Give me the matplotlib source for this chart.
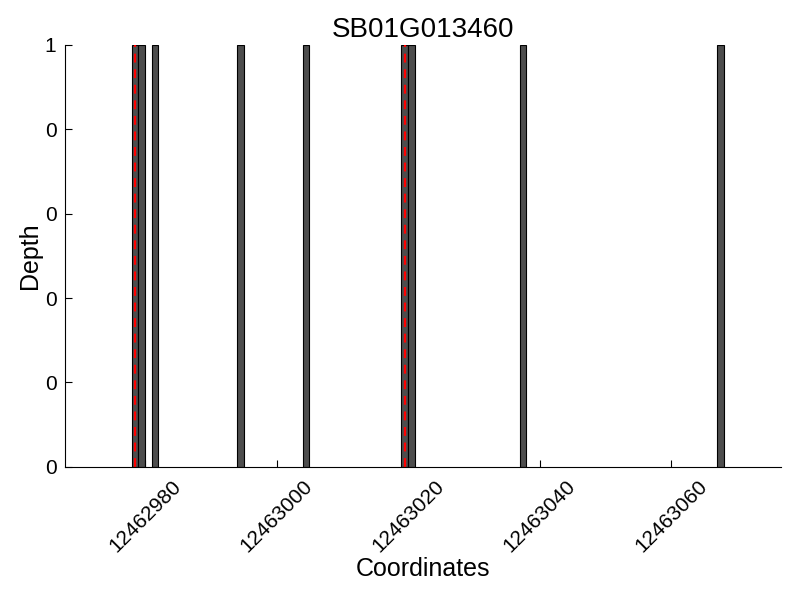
import matplotlib
matplotlib.use("Agg")
import matplotlib.pyplot as plt
from matplotlib.ticker import FormatStrFormatter

plt.rcParams['font.family'] = ['Liberation Sans', 'DejaVu Sans']

gene = "SB01G013460"
positions = [12462978, 12462979, 12462981, 12462994, 12463004,
             12463019, 12463020, 12463037, 12463067]
depths = [1, 1, 1, 1, 1, 1, 1, 1, 1]
markers = [12462978.5, 12463019.5]
xticks = [12462980, 12463000, 12463020, 12463040, 12463060]

fig = plt.figure(figsize=(8, 6), dpi=100)
ax = fig.add_axes([0.081, 0.222, 0.895, 0.703])

ax.bar(positions, depths, width=1, align='edge', color='#4d4d4d',
       edgecolor='black', linewidth=0.8)
for m in markers:
    ax.axvline(m, color='red', linestyle='--', linewidth=1.6, dashes=(4, 3))

ax.set_xlim(12462967.8, 12463076.7)
ax.set_ylim(0, 1)
ax.set_yticks([0, 0.2, 0.4, 0.6, 0.8, 1.0])
ax.yaxis.set_major_formatter(FormatStrFormatter('%d'))
ax.set_xticks(xticks)
ax.set_xticklabels([str(x) for x in xticks], rotation=45, ha='center')

for s in ['top', 'right']:
    ax.spines[s].set_visible(False)
ax.tick_params(direction='in', length=5, labelsize=15, top=False, right=False)
ax.tick_params(axis='x', pad=7)
ax.tick_params(axis='y', pad=6)

ax.set_title(gene, fontsize=20, pad=6)
ax.set_xlabel("Coordinates", fontsize=18, labelpad=1)
ax.set_ylabel("Depth", fontsize=18, labelpad=2)

fig.savefig("out.png", dpi=100)
